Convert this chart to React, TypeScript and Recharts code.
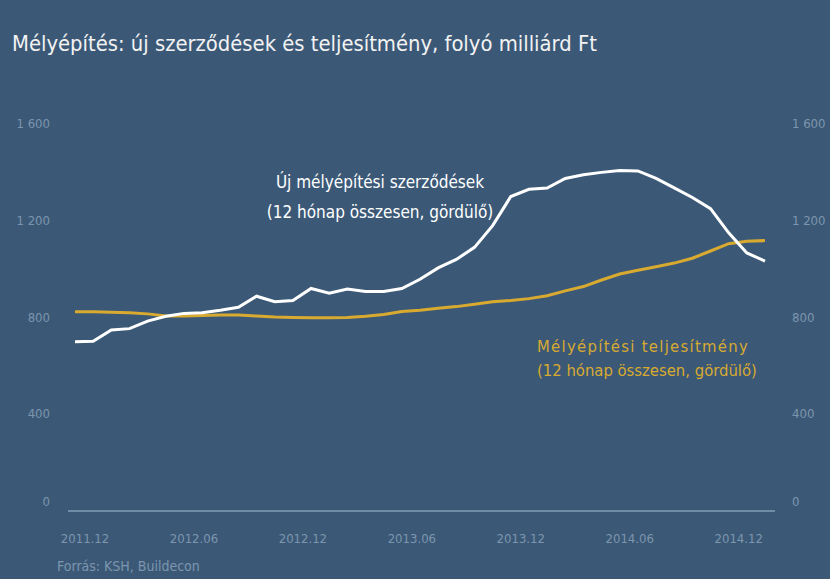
import { Line, LineChart, XAxis, YAxis } from "recharts";

const months = [
  "2011.12", "2012.01", "2012.02", "2012.03", "2012.04", "2012.05", "2012.06",
  "2012.07", "2012.08", "2012.09", "2012.10", "2012.11", "2012.12",
  "2013.01", "2013.02", "2013.03", "2013.04", "2013.05", "2013.06",
  "2013.07", "2013.08", "2013.09", "2013.10", "2013.11", "2013.12",
  "2014.01", "2014.02", "2014.03", "2014.04", "2014.05", "2014.06",
  "2014.07", "2014.08", "2014.09", "2014.10", "2014.11", "2014.12",
  "2015.01", "2015.02",
];

// Új mélyépítési szerződések (12 hónap összesen, gördülő)
const contracts = [
  700, 702, 748, 754, 785, 805, 817, 820, 830, 842, 888, 865, 870,
  920, 900, 918, 908, 908, 920, 958, 1005, 1040, 1090, 1180, 1300,
  1330, 1335, 1375, 1390, 1400, 1408, 1406, 1375, 1336, 1296, 1250,
  1150, 1067, 1033,
];

// Mélyépítési teljesítmény (12 hónap összesen, gördülő)
const output = [
  824, 824, 822, 820, 815, 806, 806, 808, 810, 810, 806, 802, 800,
  799, 799, 800, 805, 812, 825, 830, 838, 845, 855, 865, 870,
  878, 890, 910, 928, 955, 980, 995, 1010, 1025, 1045, 1075,
  1105, 1115, 1118,
];

const xTicks = ["2011.12", "2012.06", "2012.12", "2013.06", "2013.12", "2014.06", "2014.12"];
const yTicks = [0, 400, 800, 1200, 1600];

const data = months.map((m, i) => ({ month: m, contracts: contracts[i], output: output[i] }));

const BG = "#3b5977";
const GOLD = "#d8aa30";
const AXIS_TEXT = "#7d95ad";
const FONT = "'DejaVu Sans Condensed', 'DejaVu Sans', sans-serif";

const fmt = (v: number) => (v >= 1000 ? `${Math.floor(v / 1000)} ${String(v % 1000).padStart(3, "0")}` : String(v));

function YTick({ x, y, payload, anchor }: any) {
  return (
    <text
      x={x}
      y={y + (payload.value === 0 ? -9 : 0)}
      dy={4}
      textAnchor={anchor}
      fill={AXIS_TEXT}
      fontSize={13}
      fontFamily={FONT}
    >
      {fmt(payload.value)}
    </text>
  );
}

function XTick({ x, y, payload }: any) {
  return (
    <text x={x + 10} y={y} dy={12} textAnchor="middle" fill={AXIS_TEXT} fontSize={13} fontFamily={FONT}>
      {payload.value}
    </text>
  );
}

export default function App() {
  return (
    <div
      style={{
        position: "fixed",
        left: 0,
        top: 0,
        width: 830,
        height: 579,
        background: BG,
        fontFamily: FONT,
        overflow: "hidden",
      }}
    >
      <div style={{ position: "absolute", left: 12, top: 31, color: "#f2f2f2", fontSize: 21.8, whiteSpace: "nowrap" }}>
        Mélyépítés: új szerződések és teljesítmény, folyó milliárd Ft
      </div>

      <LineChart
        width={830}
        height={579}
        data={data}
        margin={{ top: 124, right: 0, left: 0, bottom: 0 }}
        style={{ position: "absolute", left: 0, top: 0 }}
      >
        <XAxis
          dataKey="month"
          ticks={xTicks}
          interval={0}
          tickLine={false}
          axisLine={{ stroke: "#6f8ba6", strokeWidth: 2 }}
          tick={<XTick />}
          tickMargin={14}
          padding={{ left: 7, right: 10 }}
          height={68}
        />
        <YAxis
          yAxisId="left"
          domain={[0, 1600]}
          ticks={yTicks}
          width={68}
          axisLine={false}
          tickLine={false}
          tickSize={0}
          tickMargin={18}
          tick={<YTick anchor="end" />}
        />
        <YAxis
          yAxisId="right"
          orientation="right"
          domain={[0, 1600]}
          ticks={yTicks}
          width={55}
          axisLine={false}
          tickLine={false}
          tickSize={0}
          tickMargin={17}
          tick={<YTick anchor="start" />}
        />
        <Line
          yAxisId="right"
          type="linear"
          dataKey="output"
          stroke={GOLD}
          strokeWidth={3}
          dot={false}
          isAnimationActive={false}
        />
        <Line
          yAxisId="left"
          type="linear"
          dataKey="contracts"
          stroke="#ffffff"
          strokeWidth={3}
          dot={false}
          isAnimationActive={false}
        />
      </LineChart>

      <div
        style={{
          position: "absolute",
          left: 380,
          top: 167,
          transform: "translateX(-50%)",
          color: "#ffffff",
          fontSize: 17,
          lineHeight: "30px",
          textAlign: "center",
          whiteSpace: "nowrap",
        }}
      >
        Új mélyépítési szerződések
        <br />
        (12 hónap összesen, gördülő)
      </div>

      <div
        style={{
          position: "absolute",
          left: 537,
          top: 335,
          color: GOLD,
          fontSize: 16.5,
          lineHeight: "24px",
          whiteSpace: "nowrap",
        }}
      >
        <span style={{ letterSpacing: 1.3 }}>Mélyépítési teljesítmény</span>
        <br />
        (12 hónap összesen, gördülő)
      </div>

      <div style={{ position: "absolute", left: 57, top: 558, color: AXIS_TEXT, fontSize: 14, whiteSpace: "nowrap" }}>
        Forrás: KSH, Buildecon
      </div>
    </div>
  );
}
